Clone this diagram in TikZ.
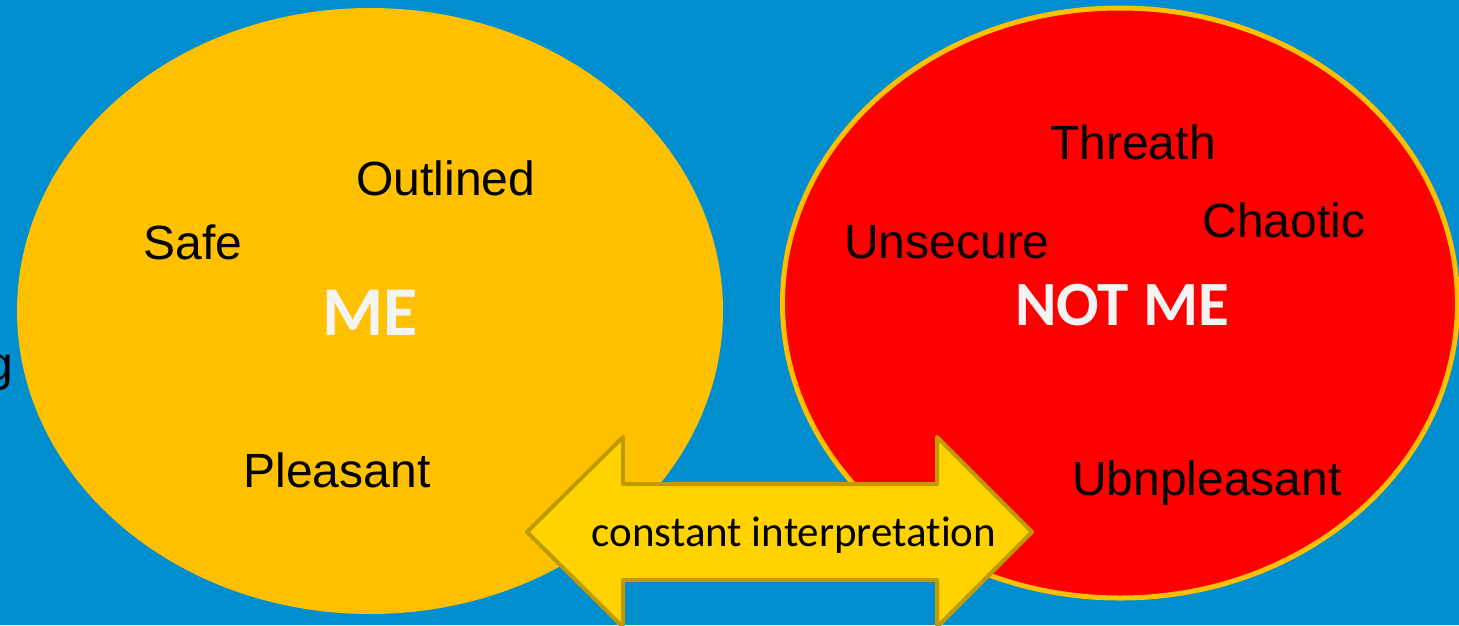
\documentclass[tikz,border=0pt]{standalone}
\usepackage{fontspec}
\setmainfont{Liberation Sans}
\newfontfamily\calibri[Ligatures=NoCommon]{Carlito}
\usetikzlibrary{shapes.geometric}
\definecolor{bgblue}{RGB}{0,142,206}
\definecolor{meorange}{RGB}{255,192,0}
\definecolor{notmered}{RGB}{255,0,0}
\definecolor{titlewhite}{RGB}{244,244,244}
\definecolor{arrowfill}{RGB}{255,210,0}
\definecolor{arrowedge}{RGB}{191,155,0}
\tikzset{
  word/.style={text=black, font=\fontsize{48}{56}\selectfont, inner sep=0pt},
  title/.style={text=titlewhite, inner sep=0pt},
}
\begin{document}
\begin{tikzpicture}[x=1pt,y=-1pt]
\useasboundingbox (0,0) rectangle (1459,625);
\clip (0,0) rectangle (1459,625);
\fill[bgblue] (0,0) rectangle (1459,625);
% partial word at the left edge
\node[word, anchor=east] (cut) at (13,373) {g};
% the two areas
\node[ellipse, fill=meorange, minimum width=706pt, minimum height=606pt, inner sep=0pt] (me) at (370,311) {};
\node[ellipse, fill=notmered, draw=meorange, line width=5pt, minimum width=675pt, minimum height=590pt, inner sep=0pt] (notme) at (1120,303) {};
% titles
\node[title, font=\calibri\bfseries\fontsize{70}{80}\selectfont] (metitle) at (370,313) {ME};
\node[title, font=\calibri\bfseries\fontsize{63}{72}\selectfont] (notmetitle) at (1122,305) {NOT ME};
% descriptive words
\node[word] (outlined) at (446,178) {Outlined};
\node[word] (safe) at (193,242) {Safe};
\node[word] (pleasant) at (337,470) {Pleasant};
\node[word] (threath) at (1133,142) {Threath};
\node[word] (chaotic) at (1284,220) {Chaotic};
\node[word] (unsecure) at (947,242) {Unsecure};
\node[word] (ubn) at (1207,483) {Ubnpleasant};
% double arrow between the areas
\coordinate (ltip) at (527,532);
\coordinate (rtip) at (1032,532);
\draw[fill=arrowfill, draw=arrowedge, line width=4pt, line join=round]
  (ltip) -- (623,437) -- (623,484) -- (937,484) -- (937,437) -- (rtip)
  -- (937,627) -- (937,580) -- (623,580) -- (623,627) -- cycle;
\node[text=black, font=\calibri\fontsize{43}{50}\selectfont, inner sep=0pt] (interp) at (794,535) {constant interpretation};
\end{tikzpicture}
\end{document}
